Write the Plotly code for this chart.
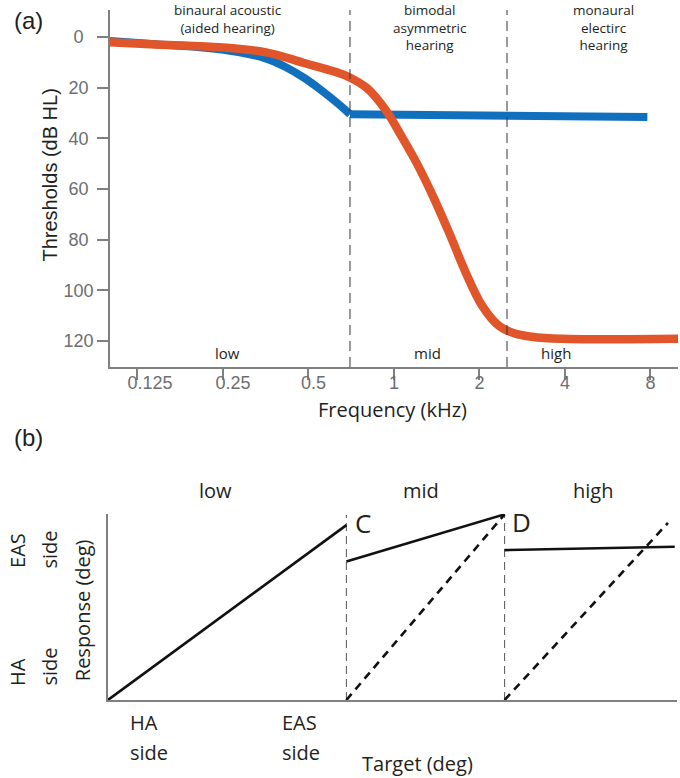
import math
import plotly.graph_objects as go

# ---------------- Panel (a) data ----------------
orange_khz = [0.1, 0.145, 0.217, 0.351, 0.483, 0.630, 0.693, 0.801, 0.940, 1.052, 1.196, 1.370, 1.570, 1.785, 2.045, 2.344, 2.665, 3.054, 3.88, 10.0]
orange_db = [2.1, 3.0, 3.8, 6.0, 10.3, 14.0, 15.8, 20.1, 29.2, 38.3, 49.3, 62.7, 77.7, 92.7, 106.1, 114.0, 117.0, 118.3, 119.1, 119.1]

blue_curve_khz = [0.1, 0.145, 0.217, 0.283, 0.351, 0.412, 0.483, 0.554, 0.630, 0.7]
blue_curve_db = [1.6, 2.9, 4.3, 6.0, 8.4, 11.7, 16.2, 21.0, 26.0, 30.5]
blue_flat_khz = [0.7, 7.8]
blue_flat_db = [30.5, 31.6]

boundaries_khz = [0.7, 2.5]
freq_ticks = [0.125, 0.25, 0.5, 1, 2, 4, 8]
freq_labels = ["\u00a0\u00a0\u00a0\u00a0\u00a00.125", "\u00a0\u00a0\u00a0\u00a00.25", "\u00a0\u00a00.5", "1", "2", "4", "8"]
db_ticks = [0, 20, 40, 60, 80, 100, 120]
db_labels = ["0\u00a0\u00a0", "20\u00a0", "40\u00a0", "60\u00a0", "80\u00a0", "100", "120"]
region_names = ["low", "mid", "high"]
region_label_khz = [0.259, 1.317, 3.73]
region_titles = ["binaural acoustic<br>(aided hearing)", "bimodal<br>asymmetric<br>hearing", "monaural<br>electirc<br>hearing"]

# ---------------- Panel (b) data (schematic, arbitrary units 0-100) ----------------
low_solid_x = [0, 41.9]
low_solid_y = [0, 94]
mid_solid_x = [41.9, 69.7]
mid_solid_y = [74.4, 99.8]
mid_dash_x = [41.9, 69.7]
mid_dash_y = [0, 99.8]
high_solid_x = [69.7, 99.6]
high_solid_y = [80.6, 82.4]
high_dash_x = [69.7, 98.4]
high_dash_y = [0, 95.2]
b_boundaries = [41.9, 69.7]
b_boundary_top = [99.5, 99.0]

W, H = 680, 778
BLUE = "#1170bd"
ORANGE = "#e0552a"
AXIS = "#808080"
TICKFONT = "#6d6e71"
TXT = "#231f20"
SANS = "Liberation Sans, Arial, sans-serif"
MYR = "Open Sans, Noto Sans, sans-serif"

def px(x):
    return x / W

def py(y):
    return 1 - y / H

fig = go.Figure()

# Panel (a) traces
fig.add_trace(go.Scatter(x=blue_curve_khz, y=blue_curve_db, mode="lines",
                         line=dict(color=BLUE, width=8, shape="spline", smoothing=1.0),
                         xaxis="x", yaxis="y", showlegend=False, hoverinfo="skip"))
fig.add_trace(go.Scatter(x=blue_flat_khz, y=blue_flat_db, mode="lines",
                         line=dict(color=BLUE, width=8),
                         xaxis="x", yaxis="y", showlegend=False, hoverinfo="skip"))
fig.add_trace(go.Scatter(x=orange_khz, y=orange_db, mode="lines",
                         line=dict(color=ORANGE, width=8.5, shape="spline", smoothing=1.0),
                         xaxis="x", yaxis="y", showlegend=False, hoverinfo="skip"))

# Panel (b) traces
for bx, bt in zip(b_boundaries, b_boundary_top):
    fig.add_trace(go.Scatter(x=[bx, bx], y=[0, bt], mode="lines",
                             line=dict(color="#555555", width=1, dash="8px,5px"),
                             xaxis="x2", yaxis="y2", showlegend=False, hoverinfo="skip"))
for xs, ys, dash in [(low_solid_x, low_solid_y, "solid"),
                     (mid_solid_x, mid_solid_y, "solid"),
                     (mid_dash_x, mid_dash_y, "8px,6px"),
                     (high_solid_x, high_solid_y, "solid"),
                     (high_dash_x, high_dash_y, "8px,6px")]:
    fig.add_trace(go.Scatter(x=xs, y=ys, mode="lines",
                             line=dict(color="#111111", width=2.6, dash=dash),
                             xaxis="x2", yaxis="y2", showlegend=False, hoverinfo="skip"))

shapes = []
for b in boundaries_khz:
    shapes.append(dict(type="line", xref="x", yref="y domain", x0=b, x1=b, y0=0, y1=1,
                       line=dict(color="#333333", width=1, dash="10px,6px")))

ann = []

def add_text(text, x, y, size, family=MYR, angle=0, xanchor="center", yanchor="middle", xref="paper", yref="paper"):
    ann.append(dict(text=text, x=x, y=y, xref=xref, yref=yref, showarrow=False,
                    xanchor=xanchor, yanchor=yanchor, textangle=angle, borderpad=0,
                    font=dict(size=size, color=TXT, family=family)))

# panel letters
add_text("(a)", px(22), py(20), 24, SANS)
add_text("(b)", px(22), py(437), 24, SANS)
# region titles top
for t, xc in zip(region_titles, [223, 427, 603]):
    add_text(t, px(xc), py(0), 13.5, yanchor="top")
# region names at bottom of panel (a)
for n, f in zip(region_names, region_label_khz):
    add_text(n, math.log10(f), 124.7, 15, xref="x", yref="y")
# axis titles panel (a)
add_text("Thresholds (dB HL)", px(43), py(175), 20, SANS, angle=-90)
add_text("Frequency (kHz)", px(390), py(409), 20)
# panel (b) region names
for n, xc in zip(region_names, [211, 418, 592]):
    add_text(n, px(xc), py(491), 20)
add_text("C", px(360), py(523), 26)
add_text("D", px(520), py(522), 26)
# y-side labels
for t, xc, yc in [("EAS", 10, 550), ("side", 42, 550), ("HA", 10, 672), ("side", 42, 667)]:
    add_text(t, px(xc), py(yc), 20, angle=-90)
add_text("Response (deg)", px(76), py(610), 20, angle=-90)
for t, xl, yc in [("HA", 123, 722), ("side", 123, 752), ("EAS", 277, 722), ("side", 277, 752)]:
    add_text(t, px(xl), py(yc), 20, xanchor="left")
add_text("Target (deg)", px(415), py(763), 20)

fig.update_layout(
    width=W, height=H,
    margin=dict(l=0, r=0, t=0, b=0),
    paper_bgcolor="white", plot_bgcolor="white",
    xaxis=dict(type="log", range=[-1, 1], domain=[px(104), px(678)], anchor="y",
               tickvals=freq_ticks, ticktext=freq_labels,
               ticks="outside", ticklen=11, tickwidth=1.5, tickcolor=AXIS,
               ticklabelstandoff=-12,
               showline=True, linecolor=AXIS, linewidth=1.5, showgrid=False, zeroline=False,
               tickfont=dict(size=18, color=TICKFONT, family=SANS)),
    yaxis=dict(range=[130.2, -10.6], domain=[py(367), py(10)], anchor="x",
               tickvals=db_ticks, ticktext=db_labels,
               ticks="outside", ticklen=11, tickwidth=1.5, tickcolor=AXIS,
               showline=True, linecolor=AXIS, linewidth=1.5, showgrid=False, zeroline=False,
               tickfont=dict(size=18, color=TICKFONT, family=SANS)),
    xaxis2=dict(range=[0, 100], domain=[px(102), px(677)], anchor="y2",
                showticklabels=False, ticks="", showline=True, linecolor=AXIS, linewidth=1.5,
                showgrid=False, zeroline=False),
    yaxis2=dict(range=[0, 100], domain=[py(700), py(514)], anchor="x2",
                showticklabels=False, ticks="", showline=True, linecolor=AXIS, linewidth=1.5,
                showgrid=False, zeroline=False),
    shapes=shapes,
    annotations=ann,
)

fig.write_html("out.html", config={"displayModeBar": False},
               post_script="document.body.style.margin='0px';document.body.style.overflow='hidden';")
